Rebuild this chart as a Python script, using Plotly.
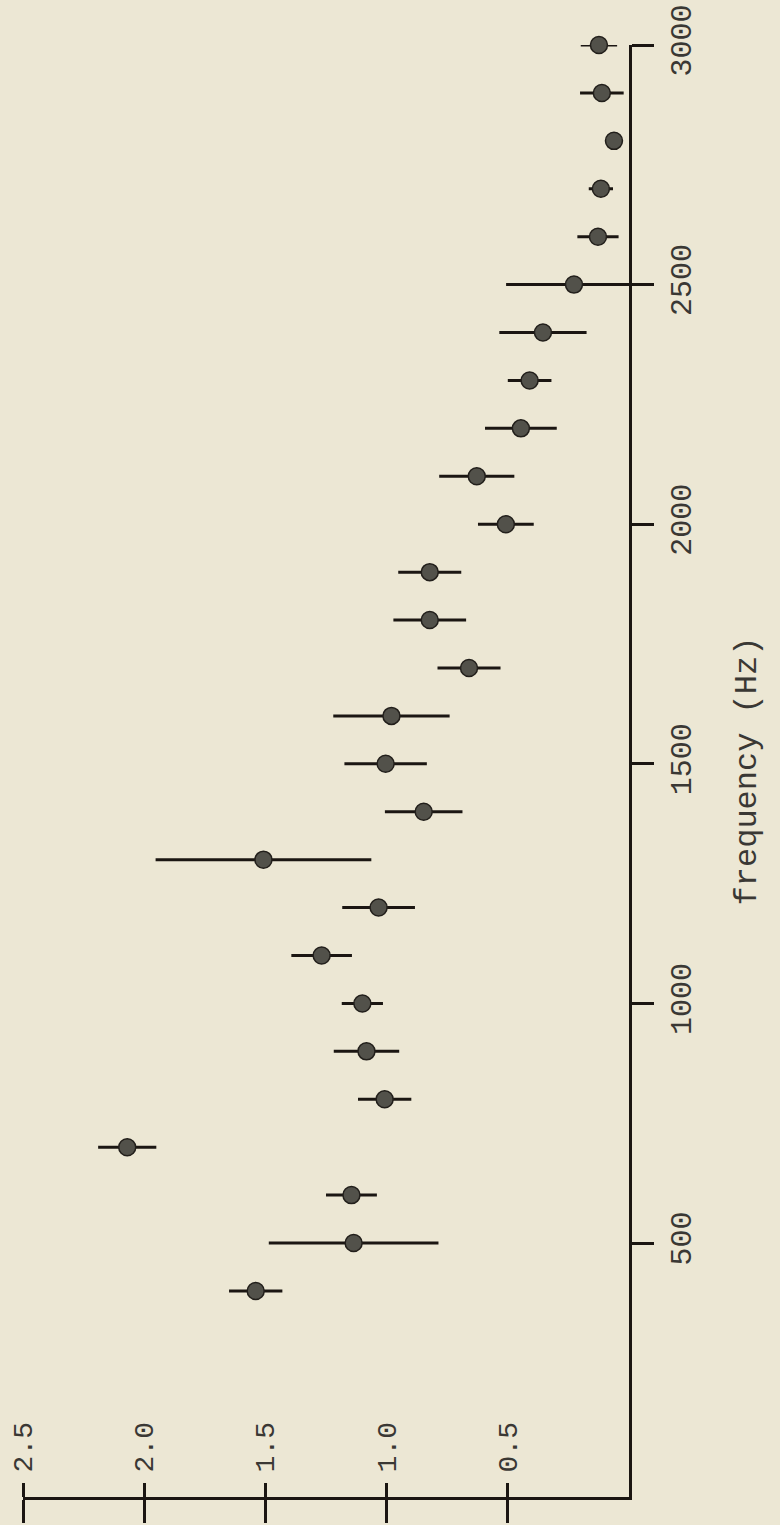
import plotly.graph_objects as go

# Data (frequency in Hz, value, symmetric error)
frequency = [400, 500, 600, 700, 800, 900, 1000, 1100, 1200, 1300, 1400, 1500,
             1600, 1700, 1800, 1900, 2000, 2100, 2200, 2300, 2400, 2500, 2600,
             2700, 2800, 2900, 3000]
value = [1.54, 1.136, 1.145, 2.07, 1.008, 1.083, 1.10, 1.268, 1.033, 1.508,
         0.847, 1.004, 0.98, 0.66, 0.822, 0.822, 0.508, 0.628, 0.446, 0.41,
         0.355, 0.227, 0.128, 0.116, 0.062, 0.112, 0.124]
error = [0.11, 0.35, 0.105, 0.12, 0.11, 0.135, 0.085, 0.125, 0.15, 0.445,
         0.16, 0.17, 0.24, 0.13, 0.15, 0.13, 0.115, 0.155, 0.148, 0.09,
         0.18, 0.28, 0.085, 0.05, 0.03, 0.09, 0.075]

value_ticks = [0.5, 1.0, 1.5, 2.0, 2.5]
value_tick_labels = ["0.5", "1.0", "1.5", "2.0", "2.5"]
freq_ticks = [500, 1000, 1500, 2000, 2500, 3000]
freq_tick_labels = ["500", "1000", "1500", "2000", "2500", "3000"]
freq_title = "frequency (Hz)"

BG = "#ece7d4"
INK = "#1b1612"
TXT = "#3a3834"
FONT = "Liberation Mono"

fig = go.Figure()
fig.add_trace(go.Scatter(
    x=value, y=frequency, mode="markers", cliponaxis=False,
    marker=dict(size=17, color="#52514a", line=dict(color="#221f1b", width=1.5)),
    error_x=dict(type="data", array=error, visible=True, color=INK,
                 thickness=3, width=0),
    showlegend=False, hoverinfo="skip",
))
# invisible trace to activate the secondary x axis (upward ticks + labels)
fig.add_trace(go.Scatter(x=[None], y=[None], xaxis="x2", showlegend=False))

fig.update_layout(
    width=780, height=1525,
    paper_bgcolor=BG, plot_bgcolor=BG,
    margin=dict(l=23, r=151, t=45, b=28, autoexpand=False),
    xaxis=dict(
        range=[2.5, 0], tickvals=value_ticks, ticktext=value_tick_labels,
        ticks="outside", ticklen=23, tickwidth=3, tickcolor=INK,
        showticklabels=False, showline=True, linewidth=3, linecolor=INK,
        showgrid=False, zeroline=False, fixedrange=True,
    ),
    xaxis2=dict(
        overlaying="x", matches="x", side="top", anchor="free", position=0,
        range=[2.5, 0], tickvals=value_ticks, ticktext=value_tick_labels,
        ticks="outside", ticklen=14, tickwidth=3, tickcolor=INK,
        tickangle=-90, ticklabelstandoff=5,
        tickfont=dict(family=FONT, size=28, color=TXT),
        showline=False, showgrid=False, zeroline=False,
    ),
    yaxis=dict(
        side="right", range=[-30, 3000],
        tickvals=freq_ticks, ticktext=freq_tick_labels,
        ticks="outside", ticklen=22, tickwidth=3, tickcolor=INK,
        tickangle=-90, ticklabelstandoff=1,
        tickfont=dict(family=FONT, size=30, color=TXT),
        showline=True, linewidth=3, linecolor=INK,
        showgrid=False, zeroline=False,
        title=dict(text=freq_title, standoff=35,
                   font=dict(family=FONT, size=32, color=TXT)),
    ),
)

fig.write_html("out.html", config={"displayModeBar": False},
               post_script="document.body.style.margin='0';document.body.style.background='#ece7d4';")
